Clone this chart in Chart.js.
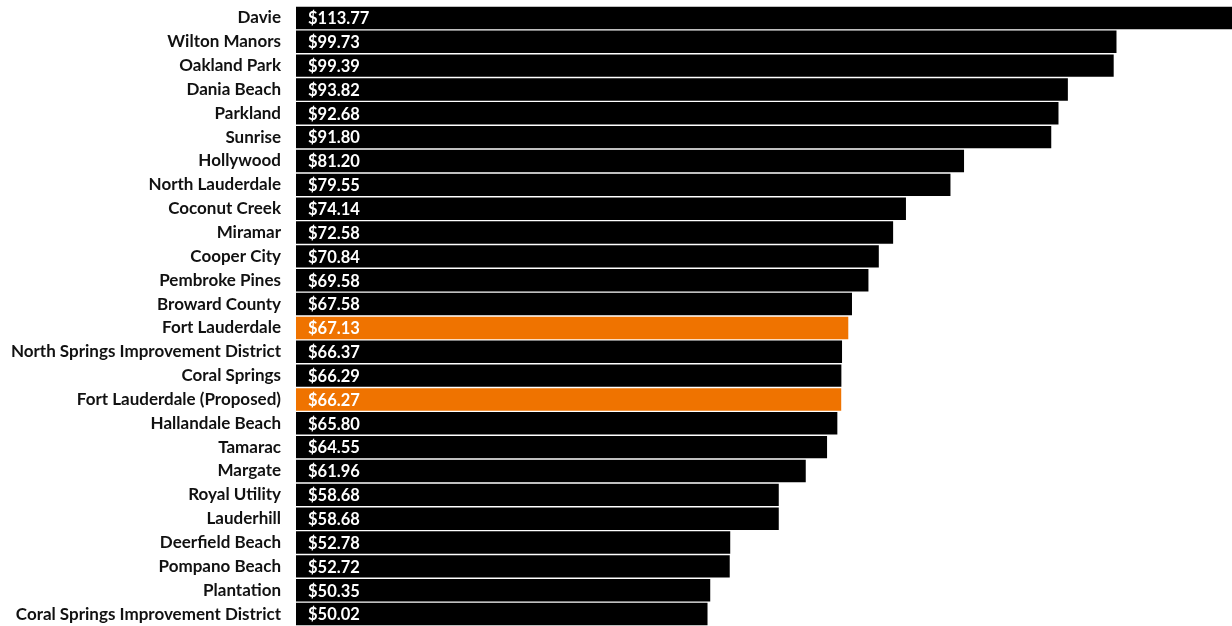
<!DOCTYPE html>
<html>
<head>
<meta charset="utf-8">
<script src="https://cdn.jsdelivr.net/npm/chart.js@4.4.0/dist/chart.umd.min.js"></script>
<style>
  body { margin: 0; background: #fff; }
  #wrap { width: 1232px; height: 626px; }
</style>
</head>
<body>
<div id="wrap"><canvas id="canvas"></canvas></div>
<script>
var cities = ["Davie", "Wilton Manors", "Oakland Park", "Dania Beach", "Parkland", "Sunrise",
  "Hollywood", "North Lauderdale", "Coconut Creek", "Miramar", "Cooper City", "Pembroke Pines",
  "Broward County", "Fort Lauderdale", "North Springs Improvement District", "Coral Springs",
  "Fort Lauderdale (Proposed)", "Hallandale Beach", "Tamarac", "Margate", "Royal Utility",
  "Lauderhill", "Deerfield Beach", "Pompano Beach", "Plantation", "Coral Springs Improvement District"];
var rates = [113.77, 99.73, 99.39, 93.82, 92.68, 91.80, 81.20, 79.55, 74.14, 72.58, 70.84, 69.58,
  67.58, 67.13, 66.37, 66.29, 66.27, 65.80, 64.55, 61.96, 58.68, 58.68, 52.78, 52.72, 50.35, 50.02];
var highlighted = ["Fort Lauderdale", "Fort Lauderdale (Proposed)"];

var barColors = cities.map(function(c){
    return highlighted.indexOf(c) >= 0 ? "#ef7300" : "#000000";
});

// draws the $ value inside each bar, near its start
var valueLabels = {
    id: "valueLabels",
    afterDatasetsDraw: function(chart){
        var ctx = chart.ctx;
        var meta = chart.getDatasetMeta(0);
        ctx.save();
        ctx.fillStyle = "#ffffff";
        ctx.font = "bold 16.5px Lato";
        ctx.textAlign = "left";
        ctx.textBaseline = "middle";
        meta.data.forEach(function(bar, i){
            ctx.fillText("$" + rates[i].toFixed(2), bar.base + 12, bar.y + 1);
        });
        ctx.restore();
    }
};

const ctx = document.getElementById('canvas').getContext('2d');
const myChart = new Chart(ctx, {
    type: 'bar',
    data: {
        labels: cities,
        datasets: [{
            data: rates,
            backgroundColor: barColors,
            barPercentage: 1,
            categoryPercentage: 0.94
        }]
    },
    options: {
        indexAxis: 'y',
        responsive: true,
        maintainAspectRatio: false,
        animation: false,
        layout: { padding: { top: 6, right: 0, bottom: 0, left: 0 } },
        scales: {
            x: {
                display: false,
                min: 0,
                max: 113.77
            },
            y: {
                grid: { display: false, drawTicks: false },
                border: { display: false },
                afterFit: function(axis){
                    axis.width = 296;
                    axis.paddingTop = 0;
                    axis.paddingBottom = 0;
                },
                ticks: {
                    color: "#111111",
                    padding: 15,
                    autoSkip: false,
                    font: { family: "Lato", weight: "bold", size: 17 }
                }
            }
        },
        plugins: {
            legend: { display: false },
            tooltip: { enabled: false }
        }
    },
    plugins: [valueLabels]
});
</script>
</body>
</html>
